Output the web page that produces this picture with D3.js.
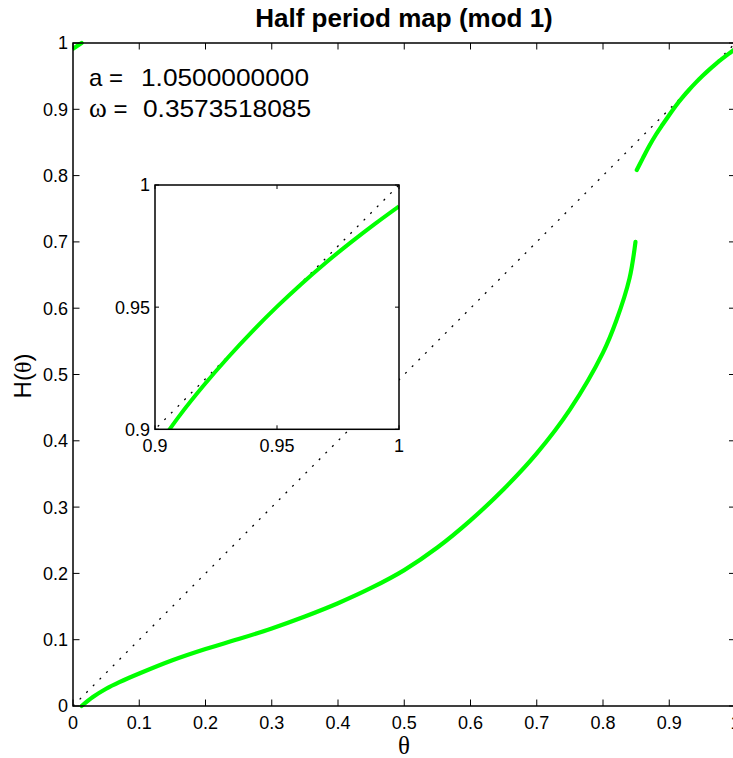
<!DOCTYPE html>
<html><head><meta charset="utf-8">
<script src="https://cdn.jsdelivr.net/npm/d3@7"></script>
<style>html,body{margin:0;padding:0;background:#fff;}svg{display:block;}</style>
</head><body>
<script>
// ---- data ----
const lowerX = [0.013,0.03,0.05,0.07,0.1,0.15,0.2,0.25,0.3,0.35,0.4,0.45,0.5,0.55,0.6,0.65,0.7,0.75,0.8,0.82,0.84,0.849];
const lowerY = [0,0.0135,0.026,0.036,0.049,0.069,0.086,0.101,0.117,0.135,0.155,0.178,0.205,0.239,0.280,0.327,0.381,0.447,0.533,0.581,0.645,0.700];
const upperX = [0.851,0.86,0.87,0.88,0.89,0.9,0.91,0.92,0.93,0.94,0.95,0.96,0.97,0.98,0.99,1.0];
const upperY = [0.8085,0.826,0.845,0.862,0.877,0.8915,0.9055,0.918,0.9295,0.9402,0.9502,0.9595,0.9682,0.9763,0.984,0.9913];
const wrapX = [0,0.013];
const wrapY = [0.9913,1.0];
const diagX = [0,1];
const diagY = [0,1];
const mainTicks = [0,0.1,0.2,0.3,0.4,0.5,0.6,0.7,0.8,0.9,1];
const mainTickLabels = ["0","0.1","0.2","0.3","0.4","0.5","0.6","0.7","0.8","0.9","1"];
const insetTicks = [0.9,0.95,1];
const insetTickLabels = ["0.9","0.95","1"];
const titleText = "Half period map (mod 1)";
const aLabel = "a =";
const aValue = "1.0500000000";
const wLabel = "ω";
const wValue = "0.3573518085";

const W = 733, H = 758;
const svg = d3.select("body").append("svg").attr("width", W).attr("height", H)
  .style("font-family", "'Liberation Sans', Arial, Helvetica, sans-serif");
svg.append("rect").attr("width", W).attr("height", H).attr("fill", "#fff");

const green = "#00ff00";
const zip = (xs, ys) => xs.map((x, i) => [x, ys[i]]);
const curve = d3.curveCatmullRom.alpha(0.5);

function drawAxes(g, x, y, ticks, labels, tickLen, fs) {
  const [x0, x1] = x.range(), [y0, y1] = y.range();
  ticks.forEach((t, i) => {
    const px = x(t), py = y(t);
    g.append("line").attr("x1", px).attr("x2", px).attr("y1", y0).attr("y2", y0 - tickLen).attr("stroke", "#000").attr("stroke-width", 1);
    g.append("line").attr("x1", px).attr("x2", px).attr("y1", y1).attr("y2", y1 + tickLen).attr("stroke", "#000").attr("stroke-width", 1);
    g.append("line").attr("x1", x0).attr("x2", x0 + tickLen).attr("y1", py).attr("y2", py).attr("stroke", "#000").attr("stroke-width", 1);
    g.append("line").attr("x1", x1).attr("x2", x1 - tickLen).attr("y1", py).attr("y2", py).attr("stroke", "#000").attr("stroke-width", 1);
    g.append("text").attr("x", px).attr("y", y0 + 23).attr("text-anchor", "middle")
      .attr("font-size", fs).text(labels[i]);
    g.append("text").attr("x", x0 - 5).attr("y", py).attr("dy", "0.36em").attr("text-anchor", "end")
      .attr("font-size", fs).text(labels[i]);
  });
  g.append("rect").attr("x", x0).attr("y", y1).attr("width", x1 - x0).attr("height", y0 - y1)
    .attr("fill", "none").attr("stroke", "#000").attr("stroke-width", 1.5);
}

// ---- main axes ----
const x = d3.scaleLinear().domain([0, 1]).range([73, 735.5]);
const y = d3.scaleLinear().domain([0, 1]).range([706, 43]);
const defs = svg.append("defs");
defs.append("clipPath").attr("id", "mainClip")
  .append("rect").attr("x", 73).attr("y", 40).attr("width", 662.5).attr("height", 669);
const main = svg.append("g");
const line = d3.line().x(d => x(d[0])).y(d => y(d[1])).curve(curve);
const plot = main.append("g").attr("clip-path", "url(#mainClip)");
plot.append("path").datum(zip(diagX, diagY)).attr("d", d3.line().x(d => x(d[0])).y(d => y(d[1])))
  .attr("fill", "none").attr("stroke", "#000").attr("stroke-width", 1.3).attr("stroke-dasharray", "2,7.4");
[zip(lowerX, lowerY), zip(upperX, upperY), zip(wrapX, wrapY)].forEach(dd => {
  plot.append("path").datum(dd).attr("d", line).attr("fill", "none").attr("stroke", green)
    .attr("stroke-width", 4.2).attr("stroke-linecap", "round");
});
drawAxes(main, x, y, mainTicks, mainTickLabels, 6.5, 18);

// title and labels
svg.append("text").attr("x", 404).attr("y", 27).attr("text-anchor", "middle")
  .attr("font-size", 26).attr("font-weight", "bold").text(titleText);
svg.append("text").attr("x", 404).attr("y", 754).attr("text-anchor", "middle")
  .attr("font-size", 25).attr("font-family", "'Liberation Serif','Times New Roman',serif").text("θ");
const yl = svg.append("text").attr("transform", "translate(31,376) rotate(-90)").attr("text-anchor", "middle")
  .attr("font-size", 24);
yl.append("tspan").text("H(");
yl.append("tspan").attr("font-family", "'Liberation Serif','Times New Roman',serif").text("θ");
yl.append("tspan").text(")");

// annotations
svg.append("text").attr("x", 89).attr("y", 86).attr("font-size", 24).text(aLabel);
svg.append("text").attr("x", 141).attr("y", 86).attr("font-size", 24)
  .attr("textLength", 168).attr("lengthAdjust", "spacingAndGlyphs").text(aValue);
const wl = svg.append("text").attr("x", 89).attr("y", 116.5).attr("font-size", 24);
wl.append("tspan").attr("font-family", "'Liberation Serif','Times New Roman',serif").attr("font-size", 27).text(wLabel);
wl.append("tspan").text(" =");
svg.append("text").attr("x", 143).attr("y", 116.5).attr("font-size", 24)
  .attr("textLength", 168).attr("lengthAdjust", "spacingAndGlyphs").text(wValue);

// ---- inset ----
const xi = d3.scaleLinear().domain([0.9, 1]).range([155, 399]);
const yi = d3.scaleLinear().domain([0.9, 1]).range([429.3, 185]);
const inset = svg.append("g");
inset.append("rect").attr("x", 155).attr("y", 185).attr("width", 244).attr("height", 244.3).attr("fill", "#fff");
defs.append("clipPath").attr("id", "insetClip")
  .append("rect").attr("x", 155).attr("y", 185).attr("width", 244).attr("height", 244.3);
const ip = inset.append("g").attr("clip-path", "url(#insetClip)");
ip.append("path").datum(zip(diagX, diagY)).attr("d", d3.line().x(d => xi(d[0])).y(d => yi(d[1])))
  .attr("fill", "none").attr("stroke", "#000").attr("stroke-width", 1.3).attr("stroke-dasharray", "2,7.4");
ip.append("path").datum(zip(upperX, upperY))
  .attr("d", d3.line().x(d => xi(d[0])).y(d => yi(d[1])).curve(curve))
  .attr("fill", "none").attr("stroke", green).attr("stroke-width", 4);
drawAxes(inset, xi, yi, insetTicks, insetTickLabels, 4, 18);
</script>
</body></html>
